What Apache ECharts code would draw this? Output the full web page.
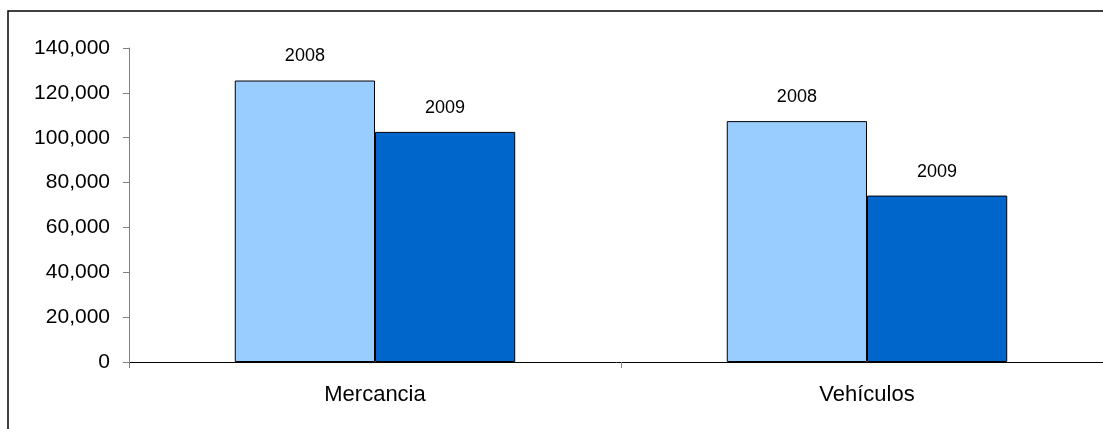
<!DOCTYPE html>
<html><head><meta charset="utf-8">
<script src="https://cdn.jsdelivr.net/npm/echarts@6/dist/echarts.min.js"></script>
<style>html,body{margin:0;padding:0;background:#fff;overflow:hidden}#c{width:1103px;height:429px}</style>
</head><body><div id="c"></div>
<script>
const categories = ['Mercancia', 'Vehículos'];
const seriesNames = ['2008', '2009'];
const values2008 = [125500, 107400];
const values2009 = [102600, 74200];
const yTicks = [0, 20000, 40000, 60000, 80000, 100000, 120000, 140000];

const chart = echarts.init(document.getElementById('c'), null, {renderer: 'canvas'});
const font = '"Liberation Sans", Arial, sans-serif';
function mk(name, data, color) {
  return {
    name: name, type: 'bar', data: data, barGap: '0%', barCategoryGap: '43%',
    itemStyle: {color: color, borderColor: '#000', borderWidth: 1},
    label: {show: true, position: 'top', distance: 15, formatter: () => name,
      color: '#000', fontSize: 18, fontFamily: font},
    animation: false
  };
}
chart.setOption({
  animation: false,
  backgroundColor: '#fff',
  graphic: [{type: 'rect', shape: {x: 8, y: 11, width: 1300, height: 600},
    style: {fill: 'none', stroke: '#000', lineWidth: 1.5}, z: 100}],
  grid: {left: 129, width: 984, top: 48, bottom: 67, containLabel: false, outerBoundsMode: 'none'},
  xAxis: {type: 'category', data: categories,
    axisLine: {lineStyle: {color: '#000', width: 1}},
    axisTick: {show: true, length: 6, lineStyle: {color: '#808080'}},
    axisLabel: {color: '#000', fontSize: 22, fontFamily: font, margin: 22}},
  yAxis: {type: 'value', min: yTicks[0], max: yTicks[yTicks.length - 1], interval: 20000,
    axisLine: {show: true, lineStyle: {color: '#808080', width: 1}},
    axisTick: {show: true, length: 6, lineStyle: {color: '#808080'}},
    splitLine: {show: false},
    axisLabel: {color: '#000', fontSize: 21, fontFamily: font, margin: 19,
      formatter: v => v.toLocaleString('en-US')}},
  series: [mk(seriesNames[0], values2008, '#99CCFF'), mk(seriesNames[1], values2009, '#0066CC')]
});
</script></body></html>
